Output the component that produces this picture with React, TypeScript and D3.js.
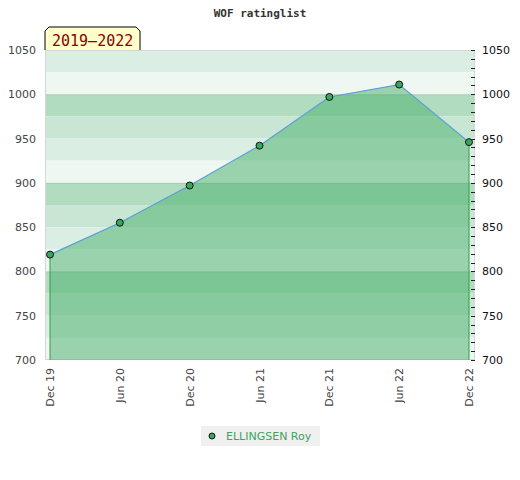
import React from 'react';
import * as d3 from 'd3';

// ratings
const periods = ['Dec 19', 'Jun 20', 'Dec 20', 'Jun 21', 'Dec 21', 'Jun 22', 'Dec 22'];
const ratings = [819, 855, 897, 942, 997, 1011, 946];
const yTicks = [700, 750, 800, 850, 900, 950, 1000, 1050];
const playerName = 'ELLINGSEN Roy';
const rangeLabel = '2019\u20132022';

const W = 520;
const H = 480;
const left = 45, right = 475, top = 50, bottom = 360;

const bandColors = ['#b2dcc0', '#c8e6d3', '#dbeee3', '#eff7f2'];

export default function App() {
  const x = d3.scalePoint<string>().domain(periods).range([50, 469]);
  const y = d3.scaleLinear().domain([700, 1050]).range([bottom, top]);

  const pts = periods.map((p, i) => ({ p, v: ratings[i] }));
  const line = d3.line<{ p: string; v: number }>().x(d => x(d.p)!).y(d => y(d.v));
  const area = d3.area<{ p: string; v: number }>().x(d => x(d.p)!).y0(bottom).y1(d => y(d.v));

  const bandStarts = d3.range(1050, 700, -25);
  const minor = d3.range(700, 1051, 10);
  const grid = [800, 900, 1000];

  return (
    <svg width={W} height={H} style={{ position: 'absolute', left: 0, top: 0 }}>
      <rect width={W} height={H} fill="#fff" />
      <text x={260} y={17} textAnchor="middle" fontFamily="DejaVu Sans Mono" fontWeight="bold" fontSize={11} fill="#333">
        WOF ratinglist
      </text>

      {bandStarts.map(b => {
        const idx = (((1000 - b) / 25) % 4 + 4) % 4;
        return (
          <rect key={b} x={left} y={y(b)} width={right - left} height={y(b - 25) - y(b)} fill={bandColors[idx]} />
        );
      })}
      {grid.map(g => (
        <line key={g} x1={left} x2={right} y1={y(g) + 0.5} y2={y(g) + 0.5} stroke="#000" strokeOpacity={0.08} />
      ))}
      <rect x={left + 0.5} y={top + 0.5} width={right - left - 1} height={bottom - top - 1} fill="none" stroke="#d6d6d6" />

      <path d={area(pts)!} fill="#46ae68" fillOpacity={0.5} />
      <line x1={x(periods[0])} x2={x(periods[0])} y1={y(ratings[0])} y2={bottom} stroke="#2e9e4f" />
      <line x1={x(periods[periods.length - 1])} x2={x(periods[periods.length - 1])} y1={y(ratings[ratings.length - 1])} y2={bottom} stroke="#2e9e4f" />
      <path d={line(pts)!} fill="none" stroke="#5b9fd6" strokeWidth={1.2} />
      {pts.map(d => (
        <circle key={d.p} cx={x(d.p)} cy={y(d.v)} r={3.5} fill="#3aa55e" stroke="#111" strokeWidth={1} />
      ))}

      {yTicks.map(t => (
        <text key={'l' + t} x={36} y={y(t) + 4} textAnchor="end" fontFamily="DejaVu Sans" fontSize={11} fill="#444">
          {t}
        </text>
      ))}
      {yTicks.map(t => (
        <text key={'r' + t} x={482} y={y(t) + 4} textAnchor="start" fontFamily="DejaVu Sans" fontSize={11} fill="#111">
          {t}
        </text>
      ))}
      {minor.map(t => (
        <line key={'m' + t} x1={471} x2={475} y1={Math.round(y(t)) + 0.5} y2={Math.round(y(t)) + 0.5} stroke="#222" />
      ))}

      {periods.map(p => (
        <text
          key={p}
          transform={`translate(${x(p)! + 4},368) rotate(-90)`}
          textAnchor="end"
          fontFamily="DejaVu Sans"
          fontSize={11}
          fill="#444"
        >
          {p}
        </text>
      ))}

      <path d="M45,50 L45,31 L49,27 L136,27 L140,31 L140,50" fill="#ffffcc" stroke="#000" strokeWidth={1} />
      <text x={52} y={46} fontFamily="DejaVu Sans Mono" fontSize={15} fill="#8b0000">
        {rangeLabel}
      </text>

      <rect x={201} y={426} width={119} height={20} fill="#f0f0f0" />
      <circle cx={212} cy={436} r={3} fill="#3aa55e" stroke="#111" />
      <text x={226} y={440} fontFamily="DejaVu Sans" fontSize={11} fill="#3aa55e">
        {playerName}
      </text>
    </svg>
  );
}
